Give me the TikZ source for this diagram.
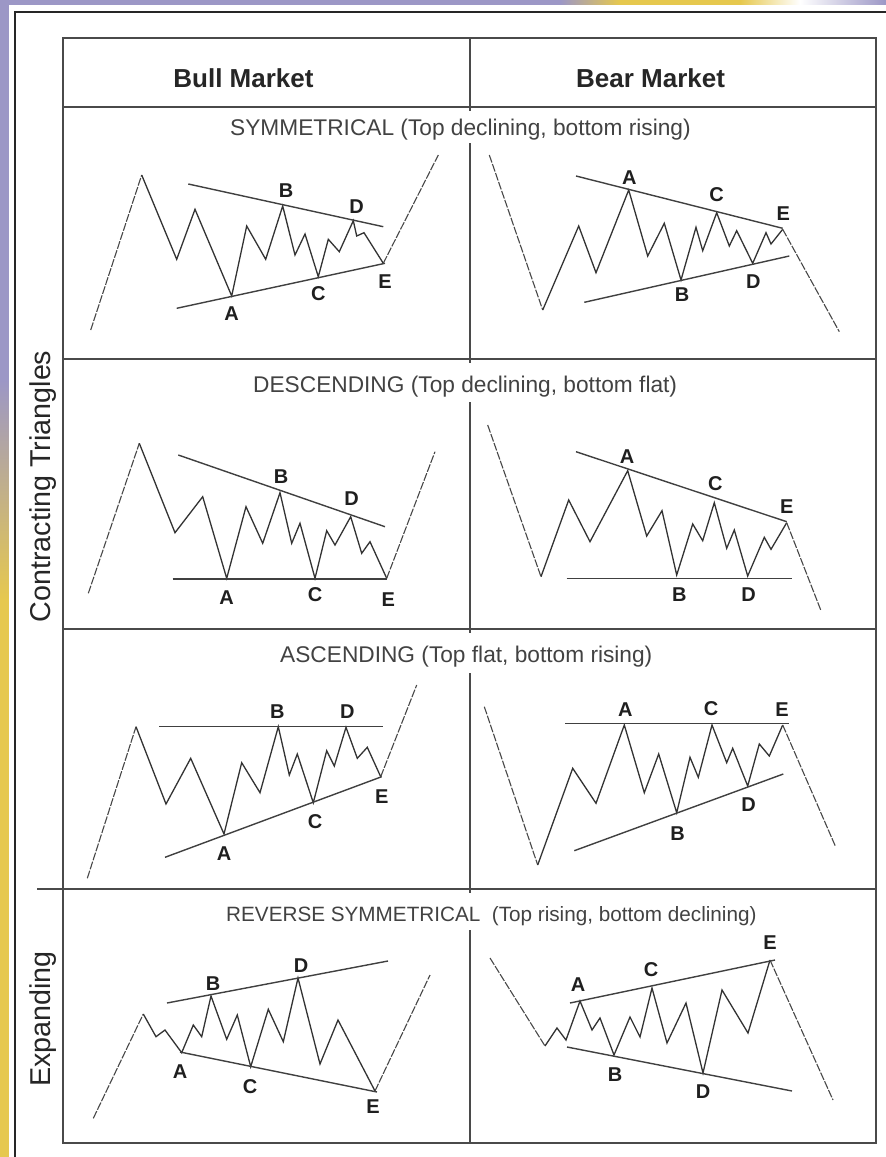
\documentclass[tikz,border=0pt]{standalone}
\usepackage{fontspec}
\setmainfont{Liberation Sans}
\definecolor{bgpurple}{HTML}{9C97C6}
\definecolor{bggold}{HTML}{E6C84E}
\definecolor{gridgray}{HTML}{4A4A4A}
\definecolor{subgray}{HTML}{424242}
\tikzset{
  wave/.style={line width=1.3pt, draw=black!80, line join=miter},
  leg/.style={line width=1.1pt, draw=black!72, dash pattern=on 8pt off 1.5pt},
  trend/.style={line width=1.4pt, draw=black!75},
  grid/.style={line width=1.6pt, draw=gridgray},
  frame/.style={line width=2.4pt, draw=black!85},
  pt/.style={font=\bfseries\fontsize{20}{20}\selectfont, text=black!88, inner sep=0pt},
  sub/.style={font=\fontsize{22.7}{24}\selectfont, text=subgray, inner sep=0pt, anchor=base west},
  head/.style={font=\bfseries\fontsize{26}{28}\selectfont, text=black!85, inner sep=0pt, anchor=base},
  side/.style={font=\fontsize{28.7}{30}\selectfont, text=black!85, rotate=90, inner sep=0pt, anchor=base}
}
\begin{document}
\begin{tikzpicture}[x=1pt, y=-1pt]
\useasboundingbox (0,0) rectangle (886,1157);
% backdrop behind the sheet
\fill[bgpurple] (0,0) rectangle (886,1157);
\shade[top color=bgpurple, bottom color=bggold] (0,380) rectangle (9,600);
\fill[bggold] (0,600) rectangle (9,1157);
\shade[left color=bgpurple, right color=bggold] (560,0) rectangle (620,5);
\fill[bggold] (620,0) rectangle (740,5);
\shade[left color=bggold, right color=white] (740,0) rectangle (800,5);
\shade[left color=white, right color=bgpurple] (800,0) rectangle (886,5);
% white sheet and outer frame
\fill[white] (9,5) rectangle (886,1157);
\draw[frame] (15,1170) -- (15,12) -- (900,12);

% table grid
\draw[grid] (63,38) rectangle (876,1143);
\draw[grid] (63,107) -- (876,107);
\draw[grid] (63,359) -- (876,359);
\draw[grid] (63,629) -- (876,629);
\draw[grid] (37,889) -- (876,889);
\draw[grid] (470,38) -- (470,111);
\draw[grid] (470,143) -- (470,359) -- (470,363);
\draw[grid] (470,402) -- (470,629) -- (470,633);
\draw[grid] (470,673) -- (470,889) -- (470,893);
\draw[grid] (470,930) -- (470,1143);

% headers and row titles
\node[head] (hbull) at (243.5,87) {Bull Market};
\node[head] (hbear) at (650.6,87) {Bear Market};
\node[side] (lcontr) at (50,486.5) {Contracting Triangles};
\node[side] (lexp) at (50,1019) {Expanding};
\node[sub] (tsym) at (230,135) {SYMMETRICAL (Top declining, bottom rising)};
\node[sub] (tdesc) at (253,392) {DESCENDING (Top declining, bottom flat)};
\node[sub] (tasc) at (280,662) {ASCENDING (Top flat, bottom rising)};
\node[sub, font=\fontsize{20.7}{22}\selectfont] (trev) at (226,921) {REVERSE SYMMETRICAL\ \ (Top rising, bottom declining)};

% ---- symmetrical, bull
\draw[leg] (90.7,330) -- (141.7,175);
\draw[wave] (141.7,175) -- (176.7,259.3) -- (195,209.3) -- (231.7,296) -- (246.7,226) -- (265.7,259.3) -- (282.7,206) -- (295,255) -- (305,234) -- (318.3,276.7) -- (328.3,239.3) -- (339.3,251.7) -- (353.3,220.7) -- (356.7,236) -- (364,232.7) -- (383.3,263.3);
\draw[leg] (383.3,263.3) -- (438.3,155);
\draw[trend] (188.3,184) -- (383.3,226.7);
\draw[trend] (176.7,308.3) -- (385,263.3);
\node[pt] (s1B) at (286,190.7) {B};
\node[pt] (s1D) at (356.7,206.7) {D};
\node[pt] (s1A) at (231.7,313.3) {A};
\node[pt] (s1C) at (318.3,293.3) {C};
\node[pt] (s1E) at (385,281.7) {E};

% ---- symmetrical, bear
\draw[leg] (489.3,155) -- (542.7,310);
\draw[wave] (542.7,310) -- (578.7,226) -- (596,272.7) -- (628.7,190) -- (647.7,256) -- (664.3,223.3) -- (681,280) -- (696,227.3) -- (702.7,250.7) -- (716.7,212.7) -- (729.3,246) -- (736.7,230.7) -- (752.7,263.3) -- (766,232.7) -- (771,244) -- (782.7,229.3);
\draw[leg] (782.7,229.3) -- (839.3,331.7);
\draw[trend] (576,176) -- (782.7,228.3);
\draw[trend] (584.3,302.3) -- (789.3,256);
\node[pt] (s2A) at (629.3,177.3) {A};
\node[pt] (s2C) at (716.7,195) {C};
\node[pt] (s2E) at (783.3,213.3) {E};
\node[pt] (s2B) at (682,295) {B};
\node[pt] (s2D) at (753.3,281.7) {D};

% ---- descending, bull
\draw[leg] (88.3,593.3) -- (139.3,443.3);
\draw[wave] (139.3,443.3) -- (175,532.7) -- (202.7,496.7) -- (226.7,578.3) -- (246,506.7) -- (262.7,543.3) -- (280,492.7) -- (291.7,543.3) -- (300,523.3) -- (315,578.3) -- (326.7,530.7) -- (335,545) -- (350.7,516.7) -- (361.7,553.3) -- (370,541.7) -- (386.7,578.3);
\draw[leg] (386.7,578.3) -- (435,451.7);
\draw[trend] (178.3,455) -- (385,526.7);
\draw[trend] (172.7,579) -- (386.7,579);
\node[pt] (d1B) at (281,476.7) {B};
\node[pt] (d1D) at (351.7,498.3) {D};
\node[pt] (d1A) at (226.7,597.3) {A};
\node[pt] (d1C) at (315,595) {C};
\node[pt] (d1E) at (388.3,599.3) {E};

% ---- descending, bear
\draw[leg] (487.7,425) -- (541,576.7);
\draw[wave] (541,576.7) -- (568.7,500) -- (590,541.7) -- (627.7,470.7) -- (646.7,536) -- (662,510.7) -- (676.7,575) -- (692.7,524) -- (702.7,540.7) -- (714.3,502.7) -- (726.7,548.3) -- (734.3,530) -- (747.7,576) -- (764.3,537.3) -- (771,549.3) -- (786.7,522.7);
\draw[leg] (786.7,522.7) -- (821,610.7);
\draw[trend] (576,451.7) -- (786.7,521.7);
\draw[trend] (566.7,578.3) -- (792,578.3);
\node[pt] (d2A) at (627,456.7) {A};
\node[pt] (d2C) at (715.3,483.3) {C};
\node[pt] (d2E) at (786.7,506.7) {E};
\node[pt] (d2B) at (679.3,595) {B};
\node[pt] (d2D) at (748.7,595) {D};

% ---- ascending, bull
\draw[leg] (87.3,878.3) -- (136,726.7);
\draw[wave] (136,726.7) -- (166,804) -- (190.7,758.3) -- (224,834) -- (241.7,762.7) -- (260,792.7) -- (278.3,726.7) -- (289.3,775) -- (297.3,754) -- (313.3,802.7) -- (326.7,750.7) -- (334.3,766) -- (346,727.3) -- (357.3,758.3) -- (367.3,747.3) -- (380.7,776.7);
\draw[leg] (380.7,776.7) -- (416.7,685);
\draw[trend] (159.3,726.7) -- (382.7,726.7);
\draw[trend] (165,857.3) -- (381.7,776.7);
\node[pt] (a1B) at (277.3,711.7) {B};
\node[pt] (a1D) at (347.3,711.7) {D};
\node[pt] (a1A) at (224,854) {A};
\node[pt] (a1C) at (315,821.7) {C};
\node[pt] (a1E) at (381.7,796.7) {E};

% ---- ascending, bear
\draw[leg] (484.3,706.7) -- (537.7,865);
\draw[wave] (537.7,865) -- (572.7,768.3) -- (596,803.3) -- (624.3,725) -- (644.3,792.7) -- (658.7,754) -- (676.7,812.7) -- (690,757.3) -- (698.3,777.3) -- (712,725) -- (726.7,762.7) -- (732.7,748.3) -- (747.7,786) -- (759.3,744) -- (769.3,756) -- (782.7,725);
\draw[leg] (782.7,725) -- (835.3,846);
\draw[trend] (565.3,723.3) -- (789.3,723.3);
\draw[trend] (574.3,850.7) -- (783.3,774);
\node[pt] (a2A) at (625.3,709.3) {A};
\node[pt] (a2C) at (711,708.3) {C};
\node[pt] (a2E) at (782,709.3) {E};
\node[pt] (a2B) at (677.7,833.3) {B};
\node[pt] (a2D) at (748.7,805) {D};

% ---- expanding, bull
\draw[leg] (93.3,1118.3) -- (143.3,1014);
\draw[wave] (143.3,1014) -- (156,1036.7) -- (165,1030) -- (181.7,1052.7) -- (193.3,1025) -- (201.7,1036.7) -- (211,996) -- (226.7,1039.3) -- (237.3,1015) -- (250.7,1066.7) -- (268.3,1009.3) -- (283.3,1041.7) -- (298,978) -- (320,1064) -- (338,1020) -- (375,1091);
\draw[leg] (375,1091) -- (430,975);
\draw[trend] (167,1003) -- (388,961);
\draw[trend] (180,1052) -- (377,1092);
\node[pt] (e1B) at (213,984) {B};
\node[pt] (e1D) at (301,966) {D};
\node[pt] (e1A) at (180,1072) {A};
\node[pt] (e1C) at (250,1087) {C};
\node[pt] (e1E) at (373,1107) {E};

% ---- expanding, bear
\draw[leg] (490,958) -- (545,1046);
\draw[wave] (545,1046) -- (557,1028) -- (566,1040) -- (580,1001) -- (592,1030) -- (600,1018) -- (614,1055) -- (630,1017) -- (640,1037) -- (652,988) -- (667,1043) -- (686,1003) -- (703,1073) -- (722,990) -- (748,1033) -- (770,960);
\draw[leg] (770,960) -- (833,1100);
\draw[trend] (570,1003) -- (775,960);
\draw[trend] (567,1047) -- (792,1091);
\node[pt] (e2A) at (578,985) {A};
\node[pt] (e2C) at (651,970) {C};
\node[pt] (e2E) at (770,943) {E};
\node[pt] (e2B) at (615,1075) {B};
\node[pt] (e2D) at (703,1092) {D};
\end{tikzpicture}
\end{document}
